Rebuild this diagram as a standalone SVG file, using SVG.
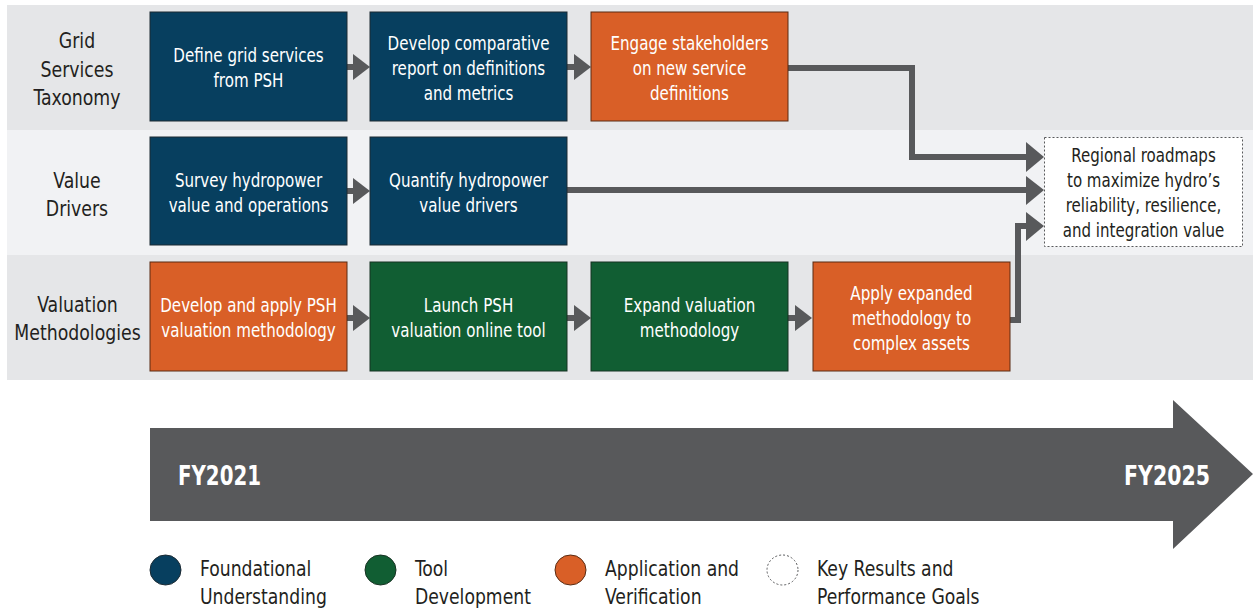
<svg xmlns="http://www.w3.org/2000/svg" width="1253" height="611" viewBox="0 0 1253 611">
<style>
text{font-family:"DejaVu Sans Condensed","DejaVu Sans","Liberation Sans",sans-serif;}
.bt{fill:#fff;font-size:20px;text-anchor:middle;}
.lab{fill:#231f20;font-size:22px;text-anchor:middle;}
.res{fill:#231f20;font-size:19px;text-anchor:middle;}
.leg{fill:#231f20;font-size:22px;}
.fy{fill:#fff;font-size:26.5px;font-weight:bold;}
.blue{fill:#073f5f;stroke:#1c2a33;stroke-width:1;}
.green{fill:#115e33;stroke:#163222;stroke-width:1;}
.orange{fill:#d95f27;stroke:#5a2b12;stroke-width:1;}
.conn{fill:none;stroke:#58595b;stroke-width:6;}
.head{fill:#58595b;}
</style>
<rect x="7" y="5" width="1246" height="125" fill="#e5e6e8"/>
<rect x="7" y="130" width="1246" height="125" fill="#f1f2f4"/>
<rect x="7" y="255" width="1246" height="125" fill="#e5e6e8"/>
<g id="label-grid"><text class="lab" transform="translate(77 0) scale(.875 1)"><tspan x="0" y="48">Grid</tspan><tspan x="0" y="77">Services</tspan><tspan x="0" y="105">Taxonomy</tspan></text></g>
<g id="label-value"><text class="lab" transform="translate(77 0) scale(.875 1)"><tspan x="0" y="188">Value</tspan><tspan x="0" y="216">Drivers</tspan></text></g>
<g id="label-valuation"><text class="lab" transform="translate(77.5 0) scale(.875 1)"><tspan x="0" y="312">Valuation</tspan><tspan x="0" y="340">Methodologies</tspan></text></g>
<g id="connectors">
<path class="conn" d="M347 67H356"/><path class="head" d="M353 54L370 67L353 80Z"/>
<path class="conn" d="M567 67H576"/><path class="head" d="M574 54L591 67L574 80Z"/>
<path class="conn" d="M347 191H356"/><path class="head" d="M353 178L370 191L353 204Z"/>
<path class="conn" d="M347 318H356"/><path class="head" d="M353 305L370 318L353 331Z"/>
<path class="conn" d="M567 318H576"/><path class="head" d="M574 305L591 318L574 331Z"/>
<path class="conn" d="M788 318H797"/><path class="head" d="M795 305L812 318L795 331Z"/>
<path class="conn" d="M788 68H912V157H1030"/><path class="head" d="M1026 142L1044 157L1026 172Z"/>
<path class="conn" d="M567 190H1030"/><path class="head" d="M1026 176L1044 190L1026 205Z"/>
<path class="conn" d="M1010 320H1018V226H1030"/><path class="head" d="M1026 212L1044 226L1026 241Z"/>
</g>
<g id="n1"><rect class="blue" x="150" y="12" width="197" height="109"/><text class="bt" transform="translate(248.5 0) scale(.84 1)"><tspan x="0" y="62">Define grid services</tspan><tspan x="0" y="87">from PSH</tspan></text></g>
<g id="n2"><rect class="blue" x="370" y="12" width="197" height="109"/><text class="bt" transform="translate(468.5 0) scale(.84 1)"><tspan x="0" y="50">Develop comparative</tspan><tspan x="0" y="75">report on definitions</tspan><tspan x="0" y="100">and metrics</tspan></text></g>
<g id="n3"><rect class="orange" x="591" y="12" width="197" height="109"/><text class="bt" transform="translate(689.5 0) scale(.84 1)"><tspan x="0" y="50">Engage stakeholders</tspan><tspan x="0" y="75">on new service</tspan><tspan x="0" y="100">definitions</tspan></text></g>
<g id="n4"><rect class="blue" x="150" y="137" width="197" height="108"/><text class="bt" transform="translate(248.5 0) scale(.84 1)"><tspan x="0" y="187">Survey hydropower</tspan><tspan x="0" y="212">value and operations</tspan></text></g>
<g id="n5"><rect class="blue" x="370" y="137" width="197" height="108"/><text class="bt" transform="translate(468.5 0) scale(.84 1)"><tspan x="0" y="187">Quantify hydropower</tspan><tspan x="0" y="212">value drivers</tspan></text></g>
<g id="n6"><rect class="orange" x="150" y="262" width="197" height="109"/><text class="bt" transform="translate(248.5 0) scale(.84 1)"><tspan x="0" y="312">Develop and apply PSH</tspan><tspan x="0" y="337">valuation methodology</tspan></text></g>
<g id="n7"><rect class="green" x="370" y="262" width="197" height="109"/><text class="bt" transform="translate(468.5 0) scale(.84 1)"><tspan x="0" y="312">Launch PSH</tspan><tspan x="0" y="337">valuation online tool</tspan></text></g>
<g id="n8"><rect class="green" x="591" y="262" width="197" height="109"/><text class="bt" transform="translate(689.5 0) scale(.84 1)"><tspan x="0" y="312">Expand valuation</tspan><tspan x="0" y="337">methodology</tspan></text></g>
<g id="n9"><rect class="orange" x="813" y="262" width="197" height="109"/><text class="bt" transform="translate(911.5 0) scale(.84 1)"><tspan x="0" y="300">Apply expanded</tspan><tspan x="0" y="325">methodology to</tspan><tspan x="0" y="350">complex assets</tspan></text></g>
<g id="result"><rect x="1044.5" y="137.5" width="198" height="109" fill="#fff" stroke="#58595b" stroke-width="1" stroke-dasharray="2,2"/><text class="res" transform="translate(1143.5 0) scale(.88 1)"><tspan x="0" y="162">Regional roadmaps</tspan><tspan x="0" y="187">to maximize hydro’s</tspan><tspan x="0" y="212">reliability, resilience,</tspan><tspan x="0" y="237">and integration value</tspan></text></g>
<g id="timeline"><path d="M150 428H1173V400L1253 474L1173 549V521H150Z" fill="#58595b"/><text class="fy" x="178" y="485" textLength="83" lengthAdjust="spacingAndGlyphs">FY2021</text><text class="fy" x="1124" y="485" textLength="86" lengthAdjust="spacingAndGlyphs">FY2025</text></g>
<g id="legend">
<ellipse cx="165.5" cy="570" rx="15.5" ry="15" fill="#073f5f" stroke="#1c2a33"/><text class="leg" transform="translate(200 0) scale(.87 1)"><tspan x="0" y="576">Foundational</tspan><tspan x="0" y="604">Understanding</tspan></text>
<ellipse cx="380.5" cy="570" rx="15.5" ry="15" fill="#115e33" stroke="#163222"/><text class="leg" transform="translate(415 0) scale(.87 1)"><tspan x="0" y="576">Tool</tspan><tspan x="0" y="604">Development</tspan></text>
<ellipse cx="570.5" cy="570" rx="15.5" ry="15" fill="#d95f27" stroke="#5a2b12"/><text class="leg" transform="translate(605 0) scale(.87 1)"><tspan x="0" y="576">Application and</tspan><tspan x="0" y="604">Verification</tspan></text>
<ellipse cx="782.5" cy="570" rx="15.5" ry="15" fill="#fff" stroke="#58595b" stroke-dasharray="2,2"/><text class="leg" transform="translate(817 0) scale(.87 1)"><tspan x="0" y="576">Key Results and</tspan><tspan x="0" y="604">Performance Goals</tspan></text>
</g>
</svg>
